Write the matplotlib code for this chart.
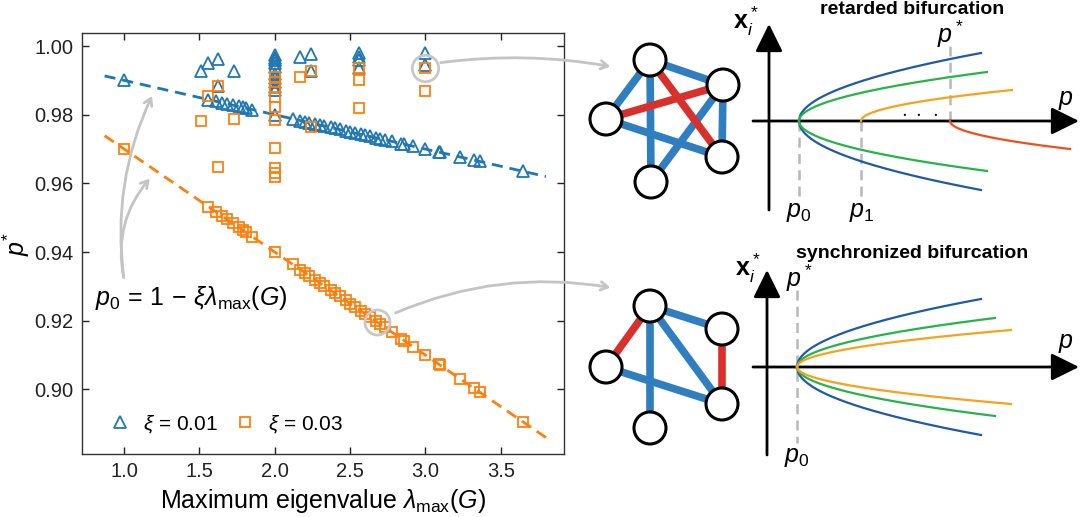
import matplotlib
matplotlib.use("Agg")
import matplotlib.pyplot as plt
import numpy as np
from matplotlib.patches import Circle
from matplotlib.lines import Line2D

plt.rcParams['font.family'] = ['Liberation Sans', 'DejaVu Sans']
plt.rcParams['mathtext.fontset'] = 'custom'
plt.rcParams['mathtext.rm'] = 'Liberation Sans'
plt.rcParams['mathtext.it'] = 'Liberation Sans:italic'
plt.rcParams['mathtext.bf'] = 'Liberation Sans:bold'

# graphs whose p* sits on the line p0 = 1 - xi*lambda_max
lam_on = [1.00, 1.56, 1.61, 1.65, 1.68, 1.72, 1.76, 1.79, 1.81, 1.85, 2.00,
          2.12, 2.17, 2.20, 2.23, 2.27, 2.30, 2.33, 2.37, 2.40, 2.43, 2.47,
          2.50, 2.53, 2.57, 2.60, 2.63, 2.67, 2.70, 2.73, 2.78, 2.84, 2.86,
          2.92, 3.00, 3.09, 3.10, 3.23, 3.32, 3.36, 3.65]
p_001_on = [0.9900, 0.9844, 0.9839, 0.9835, 0.9832, 0.9828, 0.9824, 0.9821,
            0.9819, 0.9815, 0.9800, 0.9788, 0.9783, 0.9780, 0.9777, 0.9773,
            0.9770, 0.9767, 0.9763, 0.9760, 0.9757, 0.9753, 0.9750, 0.9747,
            0.9743, 0.9740, 0.9737, 0.9733, 0.9730, 0.9727, 0.9722, 0.9716,
            0.9714, 0.9708, 0.9700, 0.9691, 0.9690, 0.9677, 0.9668, 0.9664,
            0.9635]
p_003_on = [0.9700, 0.9532, 0.9517, 0.9505, 0.9496, 0.9484, 0.9472, 0.9463,
            0.9457, 0.9445, 0.9400, 0.9364, 0.9349, 0.9340, 0.9331, 0.9319,
            0.9310, 0.9301, 0.9289, 0.9280, 0.9271, 0.9259, 0.9250, 0.9241,
            0.9229, 0.9220, 0.9211, 0.9199, 0.9190, 0.9181, 0.9166, 0.9148,
            0.9142, 0.9124, 0.9100, 0.9073, 0.9070, 0.9031, 0.9004, 0.8992,
            0.8905]

# graphs with retarded bifurcation (p* above p0)
lam_001_off = [1.51, 1.56, 1.62, 1.62, 1.73, 2.00, 2.00, 2.00, 2.00, 2.00,
               2.00, 2.00, 2.00, 2.00, 2.00, 2.17, 2.24, 2.24, 2.56, 2.56,
               2.56, 2.56, 3.00, 3.00]
p_001_off = [0.9927, 0.9952, 0.9961, 0.9884, 0.9928, 0.9974, 0.9966, 0.9959,
             0.9950, 0.9940, 0.9920, 0.9906, 0.9896, 0.9881, 0.9872, 0.9969,
             0.9977, 0.9927, 0.9979, 0.9969, 0.9959, 0.9935, 0.9979, 0.9945]
lam_003_off = [1.51, 1.56, 1.62, 1.62, 1.73, 2.00, 2.00, 2.00, 2.00, 2.00,
               2.00, 2.00, 2.00, 2.00, 2.00, 2.17, 2.24, 2.24, 2.56, 2.56,
               2.56, 3.00, 3.00]
p_003_off = [0.9782, 0.9855, 0.9884, 0.9648, 0.9788, 0.9911, 0.9896, 0.9877,
             0.9852, 0.9823, 0.9784, 0.9702, 0.9644, 0.9629, 0.9619, 0.9911,
             0.9927, 0.9765, 0.9935, 0.9901, 0.9819, 0.9937, 0.9870]

xi_values = [0.01, 0.03]
fit_range = [0.87, 3.8]

c_blue = '#1f77b4'
c_orange = '#ff7f0e'

fig = plt.figure(figsize=(10.8, 5.17), dpi=100)
ax = fig.add_axes([0.0759, 0.1219, 0.4463, 0.8143])

# fitted lines p0 = 1 - xi*lambda
xs = np.array(fit_range)
for xi, c in zip(xi_values, [c_blue, c_orange]):
    ax.plot(xs, 1 - xi * xs, ls=(0, (4, 2.5)), color=c, lw=2, zorder=2)

ax.plot(lam_on + lam_001_off, p_001_on + p_001_off, ls='none', marker='^',
        ms=9, mfc='none', mec=c_blue, mew=1.3, zorder=3)
ax.plot(lam_on + lam_003_off, p_003_on + p_003_off, ls='none', marker='s',
        ms=7.6, mfc='none', mec=c_orange, mew=1.3, zorder=3)

ax.set_xlim(0.72, 3.92)
ax.set_ylim(0.8812, 1.0038)
ax.set_xticks([1.0, 1.5, 2.0, 2.5, 3.0, 3.5])
ax.set_yticks([0.90, 0.92, 0.94, 0.96, 0.98, 1.00])
ax.set_yticklabels(['%.2f' % v for v in ax.get_yticks()])
ax.tick_params(direction='in', top=True, right=True, length=5, width=1,
               labelsize=14.5, colors='#222222', pad=6)
for s in ax.spines.values():
    s.set_color('#333333')
    s.set_linewidth(1)
ax.set_xlabel(r'Maximum eigenvalue $\lambda_{\rm max}(G)$', fontsize=18, labelpad=4)
ax.set_ylabel(r'$p^{*}$', fontsize=18, labelpad=2)

# annotation of the linear law
ax.text(0.805, 0.9266, r'$p_0\,=\,1\,-\,\xi\lambda_{\rm max}(G)$', fontsize=18,
        va='center', ha='left')
ax.annotate('', xy=(1.193, 0.9862), xytext=(1.0, 0.9318),
            arrowprops=dict(arrowstyle='->,head_length=0.5,head_width=0.3',
                            color='#c4c4c4', lw=2,
                            connectionstyle='arc3,rad=-0.15'))
ax.annotate('', xy=(1.182, 0.9620), xytext=(1.0, 0.9318),
            arrowprops=dict(arrowstyle='->,head_length=0.5,head_width=0.3',
                            color='#c4c4c4', lw=2,
                            connectionstyle='arc3,rad=-0.25'))

# highlighted graphs
ax.plot([3.0], [0.9937], 'o', ms=19, mfc='none', mec='#c8c8c8', mew=2, zorder=4)
ax.plot([2.677], [0.9197], 'o', ms=18, mfc='none', mec='#c8c8c8', mew=2, zorder=4)

handles = [Line2D([], [], ls='none', marker='^', ms=9, mfc='none', mec=c_blue, mew=1.3),
           Line2D([], [], ls='none', marker='s', ms=7.6, mfc='none', mec=c_orange, mew=1.3)]
ax.legend(handles, [r'$\xi$ = 0.01', r'$\xi$ = 0.03'], ncol=2, frameon=False,
          fontsize=15, loc='lower left', bbox_to_anchor=(0.015, 0.0),
          handletextpad=0.5, columnspacing=0.7, handlelength=1.2)

# ---- schematic overlay in pixel coordinates ----
ov = fig.add_axes([0, 0, 1, 1], zorder=5)
ov.set_xlim(0, 1080)
ov.set_ylim(517, 0)
ov.axis('off')
ov.patch.set_alpha(0)

ov.annotate('', xy=(613, 67), xytext=(438, 63),
            arrowprops=dict(arrowstyle='->,head_length=0.5,head_width=0.3',
                            color='#c4c4c4', lw=2,
                            connectionstyle='arc3,rad=-0.08'))
ov.annotate('', xy=(613, 288), xytext=(393, 314),
            arrowprops=dict(arrowstyle='->,head_length=0.5,head_width=0.3',
                            color='#c4c4c4', lw=2,
                            connectionstyle='arc3,rad=-0.15'))

net_blue = '#2f7ebf'
net_red = '#d8312c'
nodes_top = {'A': (650, 60), 'RT': (723, 85), 'L': (606, 119),
             'RB': (722, 157), 'B': (651, 182)}
edges_top = [('A', 'L', 'b'), ('A', 'B', 'b'), ('A', 'RT', 'b'), ('RT', 'RB', 'b'),
             ('L', 'RB', 'b'), ('B', 'RT', 'b'), ('L', 'RT', 'r'), ('A', 'RB', 'r')]
nodes_bot = {'A': (650, 306), 'RT': (722, 329), 'L': (606, 367),
             'RB': (722, 404), 'B': (650, 428)}
edges_bot = [('A', 'L', 'r'), ('A', 'RT', 'b'), ('A', 'B', 'b'), ('A', 'RB', 'b'),
             ('RT', 'RB', 'r'), ('L', 'RB', 'b')]

for nodes, edges in [(nodes_top, edges_top), (nodes_bot, edges_bot)]:
    for a, b, c in edges:
        ov.plot([nodes[a][0], nodes[b][0]], [nodes[a][1], nodes[b][1]],
                color=net_blue if c == 'b' else net_red, lw=5.5,
                solid_capstyle='butt', zorder=1)
    for (x, y) in nodes.values():
        ov.add_patch(Circle((x, y), 16, fc='white', ec='black', lw=2.2, zorder=2))

bif_colors = {'blue': '#1f5aa6', 'green': '#27b34a', 'orange': '#f5a31c', 'red': '#ef4f1c'}
# (x_start, x_end, end offset in px, colour)
branches_top = [(799, 981, -68, 'blue'), (799, 981, 69, 'blue'),
                (799, 987, -49, 'green'), (799, 987, 50, 'green'),
                (861, 1012, -31, 'orange'), (950, 1070, 28, 'red')]
branches_bot = [(797, 981, -68, 'blue'), (797, 981, 68, 'blue'),
                (797, 995, -49, 'green'), (797, 995, 49, 'green'),
                (797, 1011, -37, 'orange'), (797, 1011, 37, 'orange')]


def draw_axes(x0, y0, ytop, ybot):
    ov.annotate('', xy=(1079, y0), xytext=(753, y0),
                arrowprops=dict(arrowstyle='-|>,head_length=0.85,head_width=0.42',
                                color='black', lw=2, mutation_scale=20,
                                shrinkA=0, shrinkB=0))
    ov.annotate('', xy=(x0, ytop), xytext=(x0, ybot),
                arrowprops=dict(arrowstyle='-|>,head_length=0.85,head_width=0.42',
                                color='black', lw=2, mutation_scale=20,
                                shrinkA=0, shrinkB=0))


def draw_branches(branches, y0):
    for xs0, xs1, amp, c in branches:
        t = np.linspace(0, 1, 200)
        ov.plot(xs0 + t * (xs1 - xs0), y0 + amp * np.sqrt(t),
                color=bif_colors[c], lw=1.6, zorder=3)


gray_dash = dict(color='#b8b8b8', lw=1.8, ls=(0, (4, 2.5)), zorder=2)

# top: retarded bifurcation
draw_axes(769, 121, 24, 210)
ov.plot([799, 799], [121, 198], **gray_dash)
ov.plot([861, 861], [121, 198], **gray_dash)
ov.plot([950, 950], [46, 121], **gray_dash)
draw_branches(branches_top, 121)
ov.text(912, 9, 'retarded bifurcation', fontsize=14, fontweight='bold',
        ha='center', va='center')
ov.text(746, 21, r'$\mathbf{x}_i^*$', fontsize=18, ha='center', va='center')
ov.text(1066, 100, r'$p$', fontsize=18, ha='center', va='center')
ov.text(799, 212, r'$p_0$', fontsize=18, ha='center', va='center')
ov.text(862, 212, r'$p_1$', fontsize=18, ha='center', va='center')
ov.text(951, 34, r'$p^*$', fontsize=18, ha='center', va='center')
ov.text(920, 113, r'$\cdot\;\cdot\;\cdot$', fontsize=15, ha='center', va='center')

# bottom: synchronized bifurcation
draw_axes(767, 367, 270, 455)
ov.plot([797, 797], [290, 443], **gray_dash)
draw_branches(branches_bot, 367)
ov.text(912, 253, 'synchronized bifurcation', fontsize=14, fontweight='bold',
        ha='center', va='center')
ov.text(748, 268, r'$\mathbf{x}_i^*$', fontsize=18, ha='center', va='center')
ov.text(1066, 343, r'$p$', fontsize=18, ha='center', va='center')
ov.text(797, 457, r'$p_0$', fontsize=18, ha='center', va='center')
ov.text(800, 278, r'$p^*$', fontsize=18, ha='center', va='center')

fig.savefig('out.png', dpi=100)
